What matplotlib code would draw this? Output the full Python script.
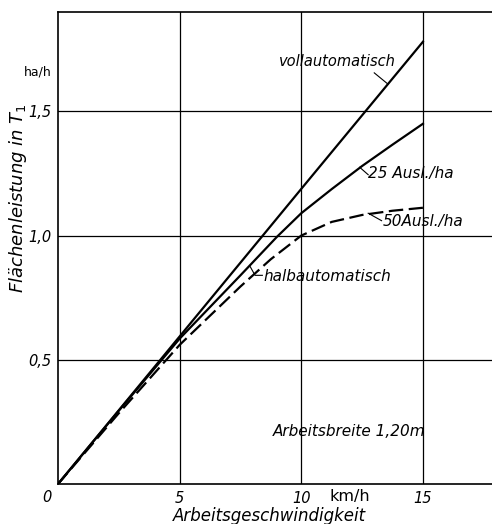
import numpy as np
import matplotlib.pyplot as plt

# Geschwindigkeit km/h
speed_voll = [0, 5, 10, 15]
voll = [0, 0.594, 1.188, 1.78]

speed_25 = [0, 2.5, 5, 7.5, 9, 10, 11.25, 12.5, 13.75, 15]
ausl25 = [0, 0.295, 0.585, 0.84, 0.995, 1.09, 1.187, 1.28, 1.366, 1.45]

speed_50 = [0, 2.5, 5, 7.5, 8.75, 10, 11.25, 12.5, 13.75, 15]
ausl50 = [0, 0.285, 0.56, 0.795, 0.905, 1.0, 1.055, 1.083, 1.10, 1.112]

xticks = [5, 10, 15]
yticks = [0.5, 1.0, 1.5]
ytick_labels = ["0,5", "1,0", "1,5"]

fig = plt.figure(figsize=(4.92, 5.24), dpi=100)
ax = fig.add_axes([58 / 492, 1 - 484 / 524, 1 - 58 / 492, (484 - 12) / 524])
ax.set_xlim(0, 17.84)
ax.set_ylim(0, 1.90)

ax.spines["right"].set_visible(False)
for s in ["left", "bottom", "top"]:
    ax.spines[s].set_linewidth(1.2)

ax.set_xticks(xticks)
ax.set_xticklabels([str(t) for t in xticks], fontstyle="italic", fontsize=10.5)
ax.set_yticks(yticks)
ax.set_yticklabels(ytick_labels, fontstyle="italic", fontsize=10.5)
ax.tick_params(length=0, pad=5)
ax.grid(True, color="black", lw=0.9)

ax.plot(speed_voll, voll, color="black", lw=1.6)
ax.plot(speed_25, ausl25, color="black", lw=1.6)
ax.plot(speed_50, ausl50, color="black", lw=1.6, dashes=(6.5, 2.5))

it = dict(fontstyle="italic", fontsize=11, color="black")

ax.text(9.1, 1.70, "vollautomatisch", va="center", fontstyle="italic", fontsize=10.5)
ax.plot([13.0, 13.56], [1.655, 1.61], color="black", lw=0.8)

ax.text(12.75, 1.25, "25 Ausl./ha", va="center", **it)
ax.plot([12.4, 12.75], [1.275, 1.245], color="black", lw=0.8)

ax.text(13.35, 1.055, "50Ausl./ha", va="center", **it)
ax.plot([12.75, 13.3], [1.09, 1.06], color="black", lw=0.8)

ax.text(8.45, 0.835, "halbautomatisch", va="center", **it)
ax.plot([7.9, 8.1, 8.4], [0.875, 0.84, 0.84], color="black", lw=0.8)

ax.text(8.84, 0.21, "Arbeitsbreite 1,20m", va="center", **it)

ax.text(-0.45, -0.055, "0", ha="center", va="center", fontstyle="italic", fontsize=10.5, clip_on=False)
ax.text(12.0, -0.052, "km/h", ha="center", va="center", fontsize=11.5, clip_on=False)
ax.text(8.7, -0.13, "Arbeitsgeschwindigkeit", ha="center", va="center", fontstyle="italic", fontsize=12)
ax.text(-0.25, 1.66, "ha/h", ha="right", va="center", fontsize=9, clip_on=False)
ax.text(-1.65, 1.15, "Flächenleistung in $T_1$", rotation=90, ha="center", va="center",
        fontstyle="italic", fontsize=13)

fig.savefig("out.png", dpi=100)
